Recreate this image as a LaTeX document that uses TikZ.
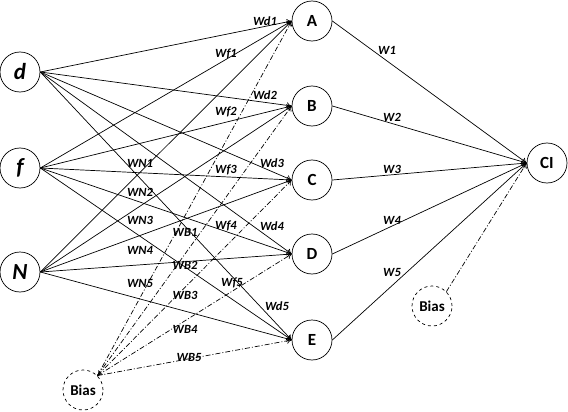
\documentclass[tikz,border=0pt]{standalone}
\usepackage{fontspec}
\setmainfont{Carlito}
\usetikzlibrary{arrows.meta}

\begin{document}
\begin{tikzpicture}[x=1pt, y=-1pt,
  neuron/.style={draw, circle, minimum size=40pt, inner sep=0pt, line width=0.7pt,
    font=\bfseries\fontsize{17}{17}\selectfont},
  inp/.style={neuron, font=\bfseries\itshape\fontsize{23}{23}\selectfont},
  biasnode/.style={neuron, dashed, font=\bfseries\fontsize{15}{15}\selectfont},
  wlabel/.style={inner sep=0pt, font=\bfseries\itshape\fontsize{12.5}{12.5}\selectfont},
  link/.style={-{To[length=5pt,width=6pt]}, line width=0.7pt},
  biaslink/.style={link, dash pattern=on 5pt off 2pt on 1pt off 2pt}
]
\useasboundingbox (0,0) rectangle (568,412);
% input layer
\node[inp] (d) at (20,72) {d};
\node[inp] (f) at (20,168) {f};
\node[inp] (N) at (20,272) {N};
\node[biasnode] (b1) at (83,390) {Bias};
% hidden layer
\node[neuron] (A) at (312,21) {A};
\node[neuron] (B) at (312,106) {B};
\node[neuron] (C) at (312,180) {C};
\node[neuron] (D) at (312,254) {D};
\node[neuron] (E) at (312,340) {E};
% output
\node[neuron] (CI) at (547,163) {CI};
\node[biasnode] (b2) at (432,306) {Bias};

\foreach \s in {d,f,N}
  \foreach \t in {A,B,C,D,E}
    \draw[link] (\s.east) -- (\t.west);
\foreach \t in {A,B,D,E}
  \draw[biaslink] (b1.north east) -- (\t.west);
\draw[biaslink, {To[length=5pt,width=6pt]}-{To[length=5pt,width=6pt]}] (b1.north east) -- (C.west);
\foreach \t in {A,B,C,D,E}
  \draw[link] (\t.east) -- (CI.west);
\draw[biaslink] (b2.north east) -- (CI.west);

% weights
\node[wlabel] (wd1) at (265,21) {Wd1};
\node[wlabel] (wf1) at (226,54) {Wf1};
\node[wlabel] (wd2) at (265,95) {Wd2};
\node[wlabel] (wf2) at (226,112) {Wf2};
\node[wlabel] (wd3) at (272,163) {Wd3};
\node[wlabel] (wf3) at (226,170) {Wf3};
\node[wlabel] (wd4) at (272,226) {Wd4};
\node[wlabel] (wf4) at (226,226) {Wf4};
\node[wlabel] (wd5) at (277,306) {Wd5};
\node[wlabel] (wf5) at (232,283) {Wf5};
\node[wlabel] (wn1) at (140,163) {WN1};
\node[wlabel] (wn2) at (140,192) {WN2};
\node[wlabel] (wn3) at (140,220) {WN3};
\node[wlabel] (wn4) at (140,250) {WN4};
\node[wlabel] (wn5) at (140,283) {WN5};
\node[wlabel] (wb1) at (185,232) {WB1};
\node[wlabel] (wb2) at (185,265) {WB2};
\node[wlabel] (wb3) at (185,295) {WB3};
\node[wlabel] (wb4) at (185,329) {WB4};
\node[wlabel] (wb5) at (189,357) {WB5};
\node[wlabel] (w1) at (387,50) {W1};
\node[wlabel] (w2) at (392,117) {W2};
\node[wlabel] (w3) at (392,169) {W3};
\node[wlabel] (w4) at (392,220) {W4};
\node[wlabel] (w5) at (392,272) {W5};
\end{tikzpicture}
\end{document}
